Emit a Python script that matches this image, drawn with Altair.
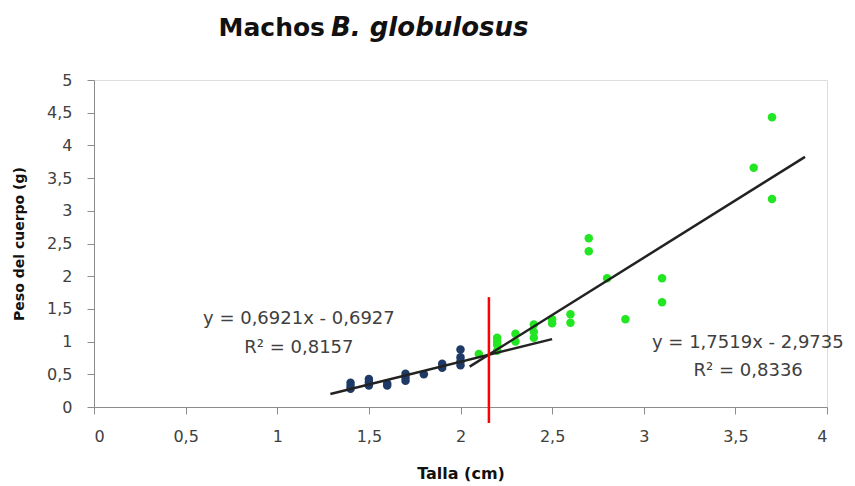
import altair as alt
import pandas as pd

# Blue (small males) points
blue_x = [1.4, 1.4, 1.4, 1.5, 1.5, 1.5, 1.6, 1.6, 1.7, 1.7, 1.7, 1.8, 1.9, 1.9, 2.0, 2.0, 2.0, 2.0]
blue_y = [0.37, 0.32, 0.28, 0.43, 0.38, 0.33, 0.36, 0.33, 0.51, 0.45, 0.40, 0.50, 0.66, 0.60, 0.88, 0.76, 0.70, 0.64]

# Green (large males) points
green_x = [2.1, 2.2, 2.2, 2.2, 2.2, 2.3, 2.3, 2.4, 2.4, 2.4, 2.5, 2.5, 2.6, 2.6, 2.7, 2.7, 2.8, 2.9, 3.1, 3.1, 3.6, 3.7, 3.7]
green_y = [0.81, 1.06, 1.00, 0.95, 0.86, 1.12, 1.00, 1.26, 1.15, 1.06, 1.34, 1.28, 1.42, 1.29, 2.58, 2.38, 1.97, 1.34, 1.97, 1.60, 3.66, 4.43, 3.18]

# Trend lines (end points on the fitted equations)
fit1_x = [1.29, 2.5]
fit1_y = [0.6921 * v - 0.6927 for v in fit1_x]
fit2_x = [2.05, 3.88]
fit2_y = [1.7519 * v - 2.9735 for v in fit2_x]

# Break point (red line)
break_x = 2.155
break_y = [1.68, -0.245]

x_ticks = [0, 0.5, 1, 1.5, 2, 2.5, 3, 3.5, 4]
y_ticks = [0, 0.5, 1, 1.5, 2, 2.5, 3, 3.5, 4, 4.5, 5]

labels_text = ["y = 0,6921x - 0,6927", "R² = 0,8157", "y = 1,7519x - 2,9735", "R² = 0,8336"]
labels_x = [1.118, 1.118, 3.568, 3.57]
labels_y = [1.345, 0.90, 0.98, 0.55]

FONT = "DejaVu Sans"

pts = pd.DataFrame({
    "x": blue_x + green_x,
    "y": blue_y + green_y,
    "g": ["blue"] * len(blue_x) + ["green"] * len(green_x),
})
fits = pd.DataFrame({
    "x": fit1_x + fit2_x,
    "y": fit1_y + fit2_y,
    "s": ["a", "a", "b", "b"],
})
brk = pd.DataFrame({"x": [break_x], "y": [break_y[0]], "y2": [break_y[1]]})
lab = pd.DataFrame({"t": labels_text, "x": labels_x, "y": labels_y})

xscale = alt.Scale(domain=[0, 4], nice=False, zero=False)
yscale = alt.Scale(domain=[0, 5], nice=False)

LABEL_EXPR = "replace(toString(datum.value), '.', ',')"

xaxis = alt.Axis(values=x_ticks, title="Talla (cm)", grid=False, labelExpr=LABEL_EXPR,
                 labelFont=FONT, labelFontSize=16, labelColor="#404040", labelOverlap=False,
                 titleFont=FONT, titleFontSize=16, titleFontWeight="bold",
                 titleColor="#111111", titlePadding=21,
                 domainColor="#8C8C8C", tickColor="#8C8C8C", tickSize=7, labelPadding=14)
yaxis = alt.Axis(values=y_ticks, title="Peso del cuerpo (g)", grid=False, labelExpr=LABEL_EXPR,
                 labelFont=FONT, labelFontSize=16, labelColor="#404040", labelOverlap=False,
                 titleFont=FONT, titleFontSize=14, titleFontWeight="bold",
                 titleColor="#111111", titlePadding=20,
                 domainColor="#8C8C8C", tickColor="#8C8C8C", tickSize=7, labelPadding=15)

X = alt.X("x:Q", scale=xscale, axis=xaxis)
Y = alt.Y("y:Q", scale=yscale, axis=yaxis)

points = alt.Chart(pts).mark_circle(size=72, opacity=1).encode(
    x=X, y=Y,
    color=alt.Color("g:N", scale=alt.Scale(domain=["blue", "green"], range=["#1F3A66", "#22E622"]), legend=None),
)

lines = alt.Chart(fits).mark_line(color="#222222", strokeWidth=2.5).encode(
    x=X, y=Y, detail="s:N",
)

rule = alt.Chart(brk).mark_rule(color="#FF0000", strokeWidth=2.5, clip=False).encode(
    x=X, y=Y, y2="y2:Q",
)

texts = alt.Chart(lab).mark_text(font=FONT, fontSize=18, color="#404040").encode(
    x=X, y=Y, text="t:N",
)

title1 = alt.Chart(pd.DataFrame({"t": ["Machos"]})).mark_text(
    font=FONT, fontSize=25, fontWeight="bold", color="#111111", align="right", baseline="middle"
).encode(x=alt.value(231), y=alt.value(-52), text="t:N")
title2 = alt.Chart(pd.DataFrame({"t": ["B. globulosus"]})).mark_text(
    font=FONT, fontSize=26, fontWeight="bold", fontStyle="italic", color="#111111", align="left", baseline="middle"
).encode(x=alt.value(237), y=alt.value(-52), text="t:N")

chart = alt.layer(points, lines, rule, texts, title1, title2).properties(
    width=733, height=327,
    autosize=alt.AutoSizeParams(type="none"),
    padding={"left": 86, "top": 72, "right": 20, "bottom": 78},
).configure_view(stroke=None).configure(background="white")

chart.save("out.html", embed_options={"renderer": "svg", "actions": False})
